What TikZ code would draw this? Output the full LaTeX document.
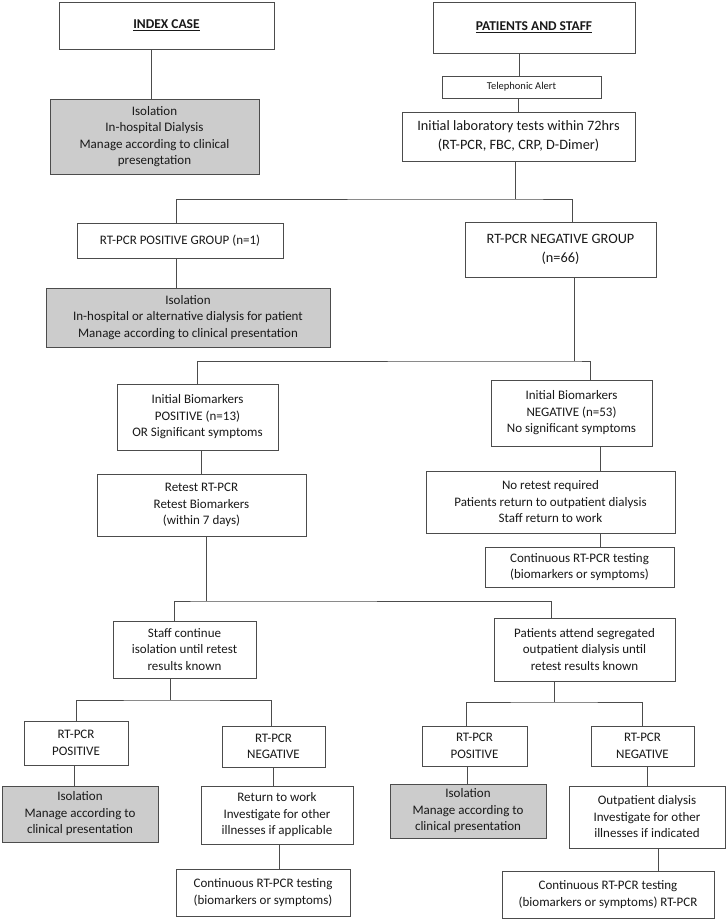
\documentclass[tikz,border=0pt]{standalone}
\usepackage{fontspec}
\setmainfont{Carlito}
\newcommand\bxfont{\fontsize{13}{16.5}\selectfont}
\newcommand\bxbig{\fontsize{14.3}{19}\selectfont}
\newcommand\bxsmall{\fontsize{10.5}{13}\selectfont}
\newcommand\bxhead{\fontsize{13.5}{15}\selectfont\bfseries}

\begin{document}
\begin{tikzpicture}[x=1pt,y=-1pt,
    box/.style={draw=black!70,fill=white,line width=0.9pt,align=center,inner sep=0pt,text=black!90,font=\bxfont},
    shaded/.style={box,fill=black!20},
    link/.style={draw=black!70,line width=0.9pt}]
    \useasboundingbox (0,0) rectangle (726,920);

    % top row
    \node[box,minimum width=215pt,minimum height=47pt] (index) at (166.5,25.5) {\bxhead\underline{INDEX CASE}};
    \node[shaded,minimum width=209pt,minimum height=75pt] (isoidx) at (154.5,136.5) {Isolation\\In-hospital Dialysis\\Manage according to clinical\\presengtation};
    \node[box,minimum width=202pt,minimum height=51pt] (staff) at (534,27.5) {\bxhead\underline{PATIENTS AND STAFF}};
    \node[box,minimum width=159pt,minimum height=22pt] (alert) at (521.5,87) {\bxsmall Telephonic Alert};
    \node[box,minimum width=233pt,minimum height=49pt,font=\bxbig] (tests) at (518.5,136.5) {Initial laboratory tests within 72hrs\\(RT-PCR, FBC, CRP, D-Dimer)};

    % groups
    \node[box,minimum width=206pt,minimum height=35pt] (posgrp) at (180,240.5) {RT-PCR POSITIVE GROUP (n=1)};
    \node[box,minimum width=191pt,minimum height=55pt,font=\bxbig] (neggrp) at (560.5,249.5) {RT-PCR NEGATIVE GROUP\\(n=66)};
    \node[shaded,minimum width=284pt,minimum height=59pt] (isopos) at (188,317.5) {Isolation\\In-hospital or alternative dialysis for patient\\Manage according to clinical presentation};

    % biomarkers
    \node[box,minimum width=161pt,minimum height=66pt] (biopos) at (197.5,417) {Initial Biomarkers\\POSITIVE (n=13)\\OR Significant symptoms};
    \node[box,minimum width=161pt,minimum height=66pt] (bioneg) at (571.5,413) {Initial Biomarkers\\NEGATIVE (n=53)\\No significant symptoms};
    \node[box,minimum width=209pt,minimum height=62pt] (retest) at (201.5,505) {Retest RT-PCR\\Retest Biomarkers\\(within 7 days)};
    \node[box,minimum width=249pt,minimum height=62pt] (noretest) at (550.5,502) {No retest required\\Patients return to outpatient dialysis\\Staff return to work};
    \node[box,minimum width=189pt,minimum height=40pt] (contneg) at (579.5,567) {Continuous RT-PCR testing\\(biomarkers or symptoms)};

    % retest branches
    \node[box,minimum width=143pt,minimum height=57pt] (staffcont) at (184.5,649.5) {Staff continue\\isolation until retest\\results known};
    \node[box,minimum width=181pt,minimum height=63pt] (patcont) at (584.5,649.5) {Patients attend segregated\\outpatient dialysis until\\retest results known};

    \node[box,minimum width=104pt,minimum height=44pt] (spos) at (76,743) {RT-PCR\\POSITIVE};
    \node[box,minimum width=103pt,minimum height=41pt] (sneg) at (273.5,746.5) {RT-PCR\\NEGATIVE};
    \node[shaded,minimum width=156pt,minimum height=56pt] (sposiso) at (80,814) {Isolation\\Manage according to\\clinical presentation};
    \node[box,minimum width=152pt,minimum height=58pt] (snegwork) at (277,815) {Return to work\\Investigate for other\\illnesses if applicable};
    \node[box,minimum width=174pt,minimum height=47pt] (snegcont) at (263,892.5) {Continuous RT-PCR testing\\(biomarkers or symptoms)};

    \node[box,minimum width=105pt,minimum height=40pt] (ppos) at (474.5,746) {RT-PCR\\POSITIVE};
    \node[box,minimum width=103pt,minimum height=40pt] (pneg) at (642.5,746) {RT-PCR\\NEGATIVE};
    \node[shaded,minimum width=156pt,minimum height=54pt] (pposiso) at (468,811) {Isolation\\Manage according to\\clinical presentation};
    \node[box,minimum width=156pt,minimum height=62pt] (pnegout) at (647,817) {Outpatient dialysis\\Investigate for other\\illnesses if indicated};
    \node[box,minimum width=212pt,minimum height=47pt] (pnegcont) at (608,894.5) {Continuous RT-PCR testing\\(biomarkers or symptoms) RT-PCR};

    % connectors
    \draw[link] ([xshift=-3.5pt]isoidx.north) -- ([xshift=-3.5pt]isoidx.north |- index.south);
    \draw[link] ([xshift=-2.5pt]alert.north) -- ([xshift=-2.5pt]alert.north |- staff.south);
    \draw[link] (tests.north) -- (tests.north |- alert.south);

    \coordinate (j1) at (515,199);
    \draw[link] (tests.south -| j1) -- (j1);
    \draw[link] ([xshift=-4pt]posgrp.north) |- (j1) -| ([xshift=11.5pt]neggrp.north);
    \draw[link] ([xshift=-4pt]posgrp.south) -- ([xshift=-4pt]posgrp.south |- isopos.north);

    \coordinate (j2) at (574,361);
    \draw[link] ([xshift=13.5pt]neggrp.south) -- (j2);
    \draw[link] (biopos.north) |- (j2) -| ([xshift=18.5pt]bioneg.north);
    \draw[link] (retest.north) -- (retest.north |- biopos.south);
    \draw[link] ([xshift=28.5pt]bioneg.south) -- ([xshift=28.5pt]bioneg.south |- noretest.north);
    \draw[link] ([xshift=49.5pt]noretest.south) -- ([xshift=49.5pt]noretest.south |- contneg.north);

    \coordinate (j3) at (206,601);
    \draw[link] ([xshift=4.5pt]retest.south) -- (j3);
    \draw[link] ([xshift=-10.5pt]staffcont.north) |- (j3) -| ([xshift=-33.5pt]patcont.north);

    \coordinate (j4) at (170,700);
    \draw[link] ([xshift=-14.5pt]staffcont.south) -- (j4);
    \draw[link] (spos.north) |- (j4) -| ([xshift=-2.5pt]sneg.north);
    \draw[link] ([xshift=-2pt]spos.south) -- ([xshift=-2pt]spos.south |- sposiso.north);
    \draw[link] (sneg.south) -- (sneg.south |- snegwork.north);
    \draw[link] ([xshift=2pt]snegwork.south) -- ([xshift=2pt]snegwork.south |- snegcont.north);

    \coordinate (j5) at (554,702);
    \draw[link] ([xshift=-30.5pt]patcont.south) -- (j5);
    \draw[link] ([xshift=-8.5pt]ppos.north) |- (j5) -| (pneg.north);
    \draw[link] ([xshift=-7.5pt]ppos.south) -- ([xshift=-7.5pt]ppos.south |- pposiso.north);
    \draw[link] ([xshift=4.5pt]pneg.south) -- ([xshift=4.5pt]pneg.south |- pnegout.north);
    \draw[link] ([xshift=11pt]pnegout.south) -- ([xshift=11pt]pnegout.south |- pnegcont.north);
\end{tikzpicture}
\end{document}
